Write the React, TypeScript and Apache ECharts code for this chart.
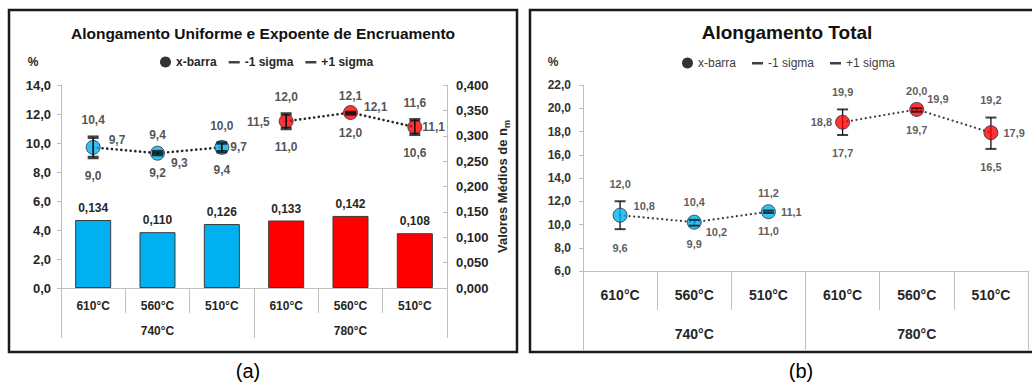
import { useEffect, useRef } from "react";
import * as echarts from "echarts";

// Categories: tempering temperature (inner) and intercritical temperature (outer)
const tempCats = ["610°C", "560°C", "510°C", "610°C", "560°C", "510°C"];
const groupCats = ["740°C", "780°C"];
const groupOfCat = [0, 0, 0, 1, 1, 1];

// Alongamento uniforme (%): média, -1 sigma, +1 sigma
const uniMean = [9.7, 9.3, 9.7, 11.5, 12.1, 11.1];
const uniLow = [9.0, 9.2, 9.4, 11.0, 12.0, 10.6];
const uniHigh = [10.4, 9.4, 10.0, 12.0, 12.1, 11.6];

// Expoente de encruamento (valores médios de n_m)
const nValues = [0.134, 0.11, 0.126, 0.133, 0.142, 0.108];

// Alongamento total (%): média, -1 sigma, +1 sigma
const totMean = [10.8, 10.2, 11.1, 18.8, 19.9, 17.9];
const totLow = [9.6, 9.9, 11.0, 17.7, 19.7, 16.5];
const totHigh = [12.0, 10.4, 11.2, 19.9, 20.0, 19.2];

// Placement of the mean labels beside each marker
const uniMeanLabelPos = [
  { position: "right", offset: [3, -7] },
  { position: "right", offset: [1, 10] },
  { position: "right", offset: [-4, 0] },
  { position: "left", offset: [-4, 1] },
  { position: "right", offset: [1, -6] },
  { position: "right", offset: [-5, 0] },
];
const totMeanLabelPos = [
  { position: "right", offset: [1, -9] },
  { position: "right", offset: [-1, 10] },
  { position: "right", offset: [0, 0] },
  { position: "left", offset: [2, 0] },
  { position: "right", offset: [-2, -10] },
  { position: "right", offset: [0, 0] },
];

const groupColors = ["#00B0F0", "#FF0000"];
const FONT = "'Liberation Sans', Arial, sans-serif";
const AXIS_GRAY = "#BFBFBF";

const fmt = (v: number, d: number) => v.toFixed(d).replace(".", ",");

const dashIcon = "path://M0,0L0,0M0,4.5H11V7H0ZM11,11L11,11";

function meanSeries(
  xi: number,
  yi: number,
  means: number[],
  pos: any[],
  size: number,
  labelSize: number,
  labelColor: string,
  z: number
) {
  return {
    name: "x-barra",
    type: "scatter",
    xAxisIndex: xi,
    yAxisIndex: yi,
    symbol: "circle",
    symbolSize: size,
    z,
    itemStyle: { color: "#000", borderColor: "#1E3446", borderWidth: 1 },
    data: means.map((v, i) => ({
      value: [i, v],
      itemStyle: { color: groupColors[groupOfCat[i]] },
      label: {
        show: true,
        position: pos[i].position,
        offset: pos[i].offset,
        distance: 5,
        formatter: () => fmt(v, 1),
        fontFamily: FONT,
        fontWeight: "bold",
        fontSize: labelSize,
        color: labelColor,
      },
    })),
  };
}

function sigmaSeries(
  name: string,
  xi: number,
  yi: number,
  vals: number[],
  cap: number[],
  labelPos: string,
  dist: number,
  labelSize: number,
  labelColor: string,
  z: number
) {
  return {
    name,
    type: "scatter",
    xAxisIndex: xi,
    yAxisIndex: yi,
    symbol: "rect",
    symbolSize: cap,
    z,
    itemStyle: { color: "#111" },
    label: {
      show: true,
      position: labelPos,
      distance: dist,
      formatter: (p: any) => fmt(p.value[1], 1),
      fontFamily: FONT,
      fontWeight: "bold",
      fontSize: labelSize,
      color: labelColor,
    },
    data: vals.map((v, i) => [i, v]),
  };
}

function errorBarSeries(xi: number, yi: number, low: number[], high: number[], lw: number, z: number) {
  return {
    name: "faixa",
    type: "custom",
    xAxisIndex: xi,
    yAxisIndex: yi,
    z,
    silent: true,
    encode: { x: 0, y: [1, 2] },
    data: low.map((l, i) => [i, l, high[i]]),
    renderItem: (_params: any, api: any) => {
      const lo = api.coord([api.value(0), api.value(1)]);
      const hi = api.coord([api.value(0), api.value(2)]);
      return {
        type: "line",
        shape: { x1: lo[0], y1: lo[1], x2: hi[0], y2: hi[1] },
        style: { stroke: "#111", lineWidth: lw },
      };
    },
  };
}

function dottedSeries(xi: number, yi: number, means: number[], group: number, color: string, width: number) {
  return {
    name: "linha" + group,
    type: "line",
    xAxisIndex: xi,
    yAxisIndex: yi,
    symbol: "none",
    z: 2,
    silent: true,
    connectNulls: false,
    lineStyle: { color, width, type: [0.1, 4.6], cap: "round" },
    data: means.map((v, i) => (groupOfCat[i] === group ? v : null)),
  };
}

function catAxis(grid: number, data: string[], tickLen: number, margin: number, size: number, showLine: boolean) {
  return {
    type: "category",
    gridIndex: grid,
    position: "bottom",
    data,
    boundaryGap: true,
    axisLine: { show: showLine, lineStyle: { color: AXIS_GRAY, width: 1 } },
    axisTick: { show: true, interval: 0, length: tickLen, lineStyle: { color: AXIS_GRAY, width: 1 } },
    axisLabel: {
      interval: 0,
      margin,
      fontFamily: FONT,
      fontWeight: "bold",
      fontSize: size,
      color: "#262626",
    },
    splitLine: { show: false },
  };
}

const legendItems = [
  { name: "x-barra", icon: "circle", itemStyle: { color: "#000", borderColor: "#000", borderWidth: 0 } },
  { name: "-1 sigma", icon: dashIcon, itemStyle: { color: "#111" } },
  { name: "+1 sigma", icon: dashIcon, itemStyle: { color: "#111" } },
];

export default function App() {
  const ref = useRef<HTMLDivElement>(null);

  useEffect(() => {
    if (!ref.current) return;
    const chart = echarts.init(ref.current, undefined, { renderer: "svg" });

    const option: any = {
      animation: false,
      backgroundColor: "#fff",
      textStyle: { fontFamily: FONT },
      grid: [
        { left: 61, top: 85, width: 386, height: 203 },
        { left: 583, top: 85, width: 445, height: 186 },
      ],
      legend: [
        {
          left: 155,
          top: 51,
          itemWidth: 11,
          itemHeight: 11,
          itemGap: 12,
          selectedMode: false,
          textStyle: { fontFamily: FONT, fontWeight: "bold", fontSize: 12, color: "#262626" },
          data: legendItems,
        },
        {
          left: 677,
          top: 52,
          itemWidth: 11,
          itemHeight: 11,
          itemGap: 16,
          selectedMode: false,
          textStyle: { fontFamily: FONT, fontSize: 12, color: "#404040" },
          data: legendItems,
        },
      ],
      xAxis: [
        catAxis(0, tempCats, 25, 12, 12, true),
        catAxis(0, groupCats, 50, 37, 12, false),
        catAxis(1, tempCats, 39, 17, 14, true),
        catAxis(1, groupCats, 79, 56, 14, false),
      ],
      yAxis: [
        {
          type: "value",
          gridIndex: 0,
          position: "left",
          min: 0,
          max: 14,
          interval: 2,
          axisLine: { show: true, lineStyle: { color: AXIS_GRAY } },
          axisTick: { show: true, length: 4, lineStyle: { color: AXIS_GRAY } },
          splitLine: { show: false },
          axisLabel: {
            margin: 10,
            formatter: (v: number) => fmt(v, 1),
            fontFamily: FONT,
            fontWeight: "bold",
            fontSize: 13,
            color: "#262626",
          },
        },
        {
          type: "value",
          gridIndex: 0,
          position: "right",
          min: 0,
          max: 0.4,
          interval: 0.05,
          axisLine: { show: true, lineStyle: { color: AXIS_GRAY } },
          axisTick: { show: true, inside: true, length: 4, lineStyle: { color: AXIS_GRAY } },
          splitLine: { show: false },
          axisLabel: {
            margin: 9,
            formatter: (v: number) => fmt(v, 3),
            fontFamily: FONT,
            fontWeight: "bold",
            fontSize: 13,
            color: "#262626",
          },
          name: "Valores Médios de n{sub|m}",
          nameLocation: "middle",
          nameRotate: 90,
          nameGap: 47,
          nameTextStyle: {
            fontFamily: FONT,
            fontWeight: "bold",
            fontSize: 13,
            color: "#262626",
            rich: {
              sub: {
                fontFamily: FONT,
                fontWeight: "bold",
                fontSize: 9,
                color: "#262626",
                verticalAlign: "bottom",
                padding: [8, 0, 0, 0],
              },
            },
          },
        },
        {
          type: "value",
          gridIndex: 1,
          position: "left",
          min: 6,
          max: 22,
          interval: 2,
          axisLine: { show: true, lineStyle: { color: AXIS_GRAY } },
          axisTick: { show: true, length: 4, lineStyle: { color: AXIS_GRAY } },
          splitLine: { show: false },
          axisLabel: {
            margin: 12,
            formatter: (v: number) => fmt(v, 1),
            fontFamily: FONT,
            fontWeight: "bold",
            fontSize: 12,
            color: "#333",
          },
        },
      ],
      series: [
        // (a) expoente de encruamento - barras no eixo direito
        {
          name: "n",
          type: "bar",
          xAxisIndex: 0,
          yAxisIndex: 1,
          barWidth: "56%",
          z: 1,
          label: {
            show: true,
            position: "top",
            distance: 6,
            formatter: (p: any) => fmt(p.value, 3),
            fontFamily: FONT,
            fontWeight: "bold",
            fontSize: 12,
            color: "#262626",
          },
          data: nValues.map((v, i) => ({
            value: v,
            itemStyle: {
              color: groupColors[groupOfCat[i]],
              borderColor: "#3a3a3a",
              borderWidth: 1,
            },
          })),
        },
        // (a) alongamento uniforme
        dottedSeries(0, 0, uniMean, 0, "#262626", 2.6),
        dottedSeries(0, 0, uniMean, 1, "#262626", 2.6),
        meanSeries(0, 0, uniMean, uniMeanLabelPos, 14, 12, "#262626", 3),
        errorBarSeries(0, 0, uniLow, uniHigh, 1.6, 4),
        sigmaSeries("-1 sigma", 0, 0, uniLow, [11, 3.5], "bottom", 11, 12, "#262626", 5),
        sigmaSeries("+1 sigma", 0, 0, uniHigh, [11, 3.5], "top", 9, 12, "#262626", 5),
        // (b) alongamento total
        dottedSeries(2, 2, totMean, 0, "#404040", 2.2),
        dottedSeries(2, 2, totMean, 1, "#404040", 2.2),
        errorBarSeries(2, 2, totLow, totHigh, 1.3, 3),
        meanSeries(2, 2, totMean, totMeanLabelPos, 14, 11, "#333", 4),
        sigmaSeries("-1 sigma", 2, 2, totLow, [11, 2], "bottom", 12, 11, "#333", 5),
        sigmaSeries("+1 sigma", 2, 2, totHigh, [11, 2], "top", 11, 11, "#333", 5),
      ],
      graphic: [
        {
          type: "rect",
          shape: { x: 9, y: 10, width: 508, height: 342 },
          style: { fill: "none", stroke: "#1a1a1a", lineWidth: 2.5 },
          z: 100,
          silent: true,
        },
        {
          type: "rect",
          shape: { x: 530, y: 10, width: 512, height: 342 },
          style: { fill: "none", stroke: "#1a1a1a", lineWidth: 2.5 },
          z: 100,
          silent: true,
        },
        {
          type: "text",
          x: 263,
          y: 33,
          style: {
            text: "Alongamento Uniforme e Expoente de Encruamento",
            font: `bold 15.5px ${FONT}`,
            fill: "#111",
            align: "center",
            verticalAlign: "middle",
          },
        },
        {
          type: "text",
          x: 787,
          y: 32,
          style: {
            text: "Alongamento Total",
            font: `bold 19px ${FONT}`,
            fill: "#111",
            align: "center",
            verticalAlign: "middle",
          },
        },
        {
          type: "text",
          x: 33,
          y: 62,
          style: { text: "%", font: `bold 12px ${FONT}`, fill: "#262626", align: "center", verticalAlign: "middle" },
        },
        {
          type: "text",
          x: 553,
          y: 62,
          style: { text: "%", font: `bold 12px ${FONT}`, fill: "#333", align: "center", verticalAlign: "middle" },
        },
        {
          type: "text",
          x: 248,
          y: 371,
          style: { text: "(a)", font: `20px ${FONT}`, fill: "#000", align: "center", verticalAlign: "middle" },
        },
        {
          type: "text",
          x: 801,
          y: 371,
          style: { text: "(b)", font: `20px ${FONT}`, fill: "#000", align: "center", verticalAlign: "middle" },
        },
      ],
    };

    chart.setOption(option);
    return () => chart.dispose();
  }, []);

  return (
    <div
      ref={ref}
      style={{ position: "fixed", left: 0, top: 0, width: 1032, height: 385, background: "#fff" }}
    />
  );
}
